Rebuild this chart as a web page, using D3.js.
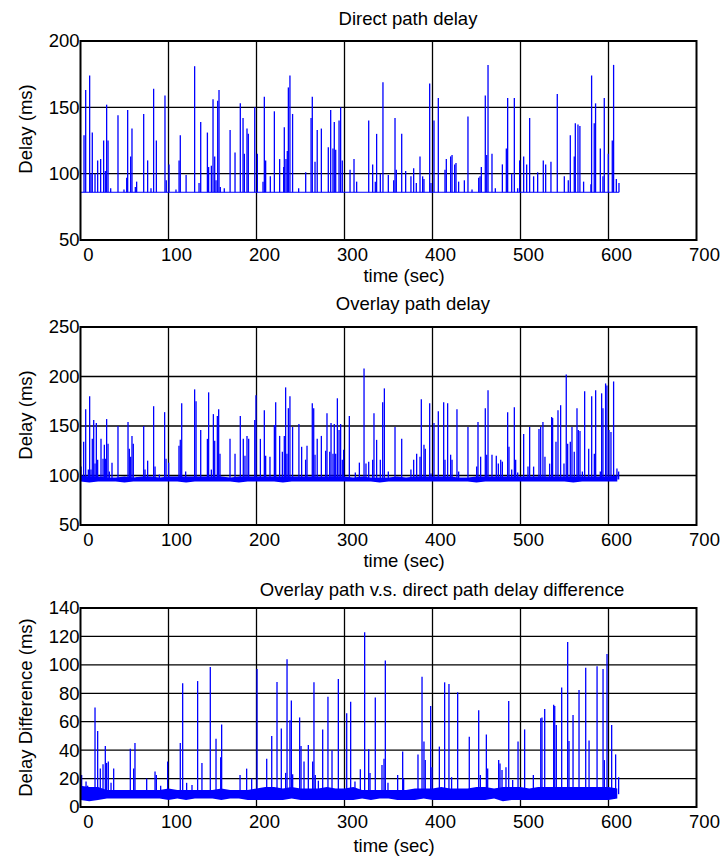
<!DOCTYPE html>
<html>
<head>
<meta charset="utf-8">
<script src="https://cdn.jsdelivr.net/npm/d3@7"></script>
<style>
  body { margin: 0; background: #fff; }
  svg { display: block; font-family: "Liberation Sans", Arial, sans-serif; }
</style>
</head>
<body>
<div id="chart"></div>
<script>
// Delay traces: direct path, overlay path and their difference

const xTicks = [0, 100, 200, 300, 400, 500, 600, 700];
const directTicks = [50, 100, 150, 200];
const overlayTicks = [50, 100, 150, 200, 250];
const diffTicks = [0, 20, 40, 60, 80, 100, 120, 140];

// flat floor of the direct path delay (ms) and the end of the trace (sec)
const directBase = 86;
const traceEnd = 612;

// [time, delay] peaks
const directSpikes = [
  [4,129],[5.9,163],[10.4,174],[11.9,100],[13.4,131],[16.5,100],[19.5,110],[22.9,111],[26.3,125],[28.2,102],
  [29.7,152],[31.3,125],[34.3,89],[42.6,144],[49.4,88],[52.5,97],[53.6,148],[57,113],[58.5,134],[62.3,90],
  [63.8,94],[71.8,145],[76.3,110],[80.1,89],[83.1,164],[86.2,125],[96,159],[97.5,95],[100.6,107],[108.5,88],
  [112,110],[113.4,129],[120,99],[129.7,181],[134.7,93],[136.6,139],[144.2,131],[145.6,105],[148.7,106],[150.6,156],
  [152.5,113],[154,95],[155.9,155],[157.4,163],[158.9,90],[163.4,89],[170,133],[175.6,116],[181.6,153],[184.7,142],
  [186.2,115],[189.2,134],[190.7,130],[198,150],[201,115],[207.4,94],[208.9,158],[210.4,110],[215.7,98],[220.3,147],
  [226.3,111],[230.9,105],[231.6,135],[233.5,111],[235,117],[236.2,165],[238,174],[241,145],[247.9,89],[255.9,101],
  [262,142],[263.4,158],[266.5,109],[269,133],[273.7,134],[281.6,120],[284.3,148],[286.9,119],[288.4,139],[290,118],
  [293.8,140],[295.6,150],[297.5,110],[306.3,103],[310.8,111],[313.8,94],[327.5,140],[332,107],[335,94],[336.5,130],
  [340.7,100],[343.7,169],[349.8,99],[355.9,95],[357.4,142],[358.9,103],[365,130],[369.5,102],[375.5,98],[378.6,104],
  [381.6,93],[385.8,113],[388.8,98],[390.3,96],[396.8,168],[398.3,93],[401.7,140],[406.6,157],[414.2,103],[415.7,111],
  [420.6,113],[422.2,114],[425.2,107],[426.7,108],[429.7,94],[436.2,95],[440.3,143],[444.9,88],[452.5,97],[454,98],
  [455.5,105],[460,159],[461.6,114],[463.1,182],[467.6,115],[471.4,89],[479.4,107],[483.9,119],[485.4,157],[490,100],
  [493,157],[496.8,89],[499,110],[503.6,113],[507,107],[510.4,142],[514.9,98],[519.5,101],[525.9,110],[528.6,107],
  [534.6,109],[541.8,160],[549.8,98],[554.3,95],[556.6,129],[561.1,113],[562.3,138],[565.3,137],[567.5,136],[571.7,94],
  [580,92],[580.8,174],[583.8,138],[585.3,153],[590.7,119],[593.7,98],[595.2,157],[599.8,115],[604.3,125],[605.8,182],
  [608.9,96],[611.9,93]
];

const overlaySpikes = [
  [0.6,109],[3.6,134],[5.9,167],[8.9,106],[10.4,180],[11.9,106],[13.4,137],[15,156],[16.5,112],[18,153],
  [19.5,116],[23.3,137],[25.6,117],[27.1,131],[28.6,117],[29.7,157],[31.3,132],[32.8,104],[35.8,113],[42.6,150],
  [49.4,98],[54,154],[55.5,127],[57,119],[58.5,140],[60,132],[63.8,98],[71.8,150],[73.3,106],[76.3,115],
  [83.1,170],[84.7,109],[89.6,101],[95.6,164],[97.2,117],[100.2,113],[111.9,130],[113.4,136],[115,173],[119.5,104],
  [129.7,187],[131.3,175],[136.6,146],[144.2,137],[145.6,184],[148.7,106],[151,162],[152.5,135],[155.5,160],[157,167],
  [158.5,122],[169.9,137],[175.6,122],[181.6,160],[185,137],[186.9,120],[189.2,140],[191.1,137],[198,156],[199.4,181],
  [204.4,137],[208.9,166],[210.4,120],[215.3,119],[220.3,151],[221.8,174],[226.3,140],[229.4,124],[231.6,140],[233.1,189],
  [234.6,122],[236.2,168],[238,180],[241,149],[248.2,152],[251.3,129],[255.8,116],[257.4,130],[263.4,173],[265,168],
  [266.5,121],[269,137],[273.7,140],[278.6,125],[280.1,163],[283.2,124],[284.7,153],[286.9,122],[288.4,152],[290,122],
  [291.9,178],[293.8,146],[295.6,152],[297.5,116],[299,126],[305.5,160],[312.3,103],[316.9,113],[322.2,208],[324.4,112],
  [327.5,114],[332,116],[333.5,163],[336.5,136],[340.7,116],[343.4,174],[345.3,188],[349.8,104],[357.4,149],[365,137],
  [375.5,106],[378.6,116],[382,122],[385.8,119],[387.3,177],[390.3,131],[391.8,127],[396.8,173],[398.3,102],[401.7,153],
  [406.6,165],[412.7,174],[414.2,116],[417.2,173],[420.6,121],[422.2,116],[427.8,167],[429.7,104],[440.3,149],[450.2,109],
  [451.7,154],[454.7,119],[460,168],[461.6,121],[463.1,186],[467.6,121],[472.5,120],[474.8,112],[477.5,116],[479.4,114],
  [485.4,164],[486.9,129],[490,106],[493,169],[494.5,116],[496.8,103],[503.6,142],[508.5,109],[510.4,149],[514.9,109],
  [521,147],[522.9,149],[525.5,154],[527.8,119],[533.1,112],[535.4,159],[536.5,158],[540.3,134],[542.6,166],[545.6,171],
  [549.4,112],[552,202],[553.6,132],[556.6,134],[558.5,149],[561.1,124],[564.2,168],[565.7,146],[567.6,145],[570.3,104],
  [572.9,185],[577.5,127],[580.9,180],[583.9,122],[585.4,186],[590.7,104],[592.2,183],[593.7,168],[596.7,193],[598.2,191],
  [600.5,146],[602.8,144],[605.8,195],[609.6,107],[611.5,104]
];

const diffSpikes = [
  [1.3,22.5],[6.3,18],[8.1,15],[16.5,70],[19.5,53.5],[22.5,27],[25.6,30],[28.2,43],[29.7,31],[31.6,32],
  [34.7,17],[37.7,27],[56.6,41],[60.4,27],[61.9,45],[75.2,20],[84.7,25],[86.2,22.5],[91.1,15],[99,32],
  [113.4,45],[116.1,87],[120.6,17],[126.7,15.5],[133.1,88.6],[138,31],[147.5,98.5],[154,48],[159.3,35],[160.4,58],
  [181.3,22.5],[188.8,27],[194.5,20],[200.6,97],[211.6,34],[217.3,50],[223.3,88],[228.2,55.3],[233.1,24],[234.7,104],
  [238,61],[239.6,75],[241.1,23],[249,63],[250.6,43],[254,32],[258.9,43.6],[263.8,32],[265.3,87.7],[266.8,22.5],
  [270.3,18.5],[275.2,54.6],[281.2,77.6],[285.8,40],[293,90],[302.5,66],[307,74],[311.9,18],[318,26.5],[322.9,123],
  [327.5,40.6],[329,24],[335,77],[342.6,29.5],[344.9,34],[346.4,103],[349.4,17],[360.4,22.5],[366.1,39],[367.2,20],
  [383.5,37],[388.1,91.7],[390.3,46],[391.8,33],[397.9,71],[399.4,28],[407.8,42.5],[413.8,87.7],[418.7,86.5],[421.7,21],
  [428.6,80.7],[441.8,49.5],[452.5,68],[454.4,22.5],[461.2,51],[462.7,27],[475.2,33],[476.7,30.6],[479,26],[483.5,28],
  [486.6,74.6],[491.1,19],[497.2,46],[504.7,54.6],[514.6,22.5],[523,62.4],[524.4,63],[527.5,69],[537.7,72],[538.9,71],
  [540.7,57.7],[546.8,84],[553.6,116],[555.1,46.4],[559.7,64.7],[566.5,82.3],[574.1,98],[577.9,46.7],[587,99],[593.8,97],
  [595.3,33],[598.3,107.6],[603.6,57.7],[608.1,37],[611.5,21]
];

// noisy floor of the overlay and difference traces, low/high edge every 10 s
const bandTimes = [0,10,20,30,40,50,60,70,80,90,100,110,120,130,140,150,160,170,180,190,200,210,220,230,240,250,260,270,280,290,
  300,310,320,330,340,350,360,370,380,390,400,410,420,430,440,450,460,470,480,490,500,510,520,530,540,550,560,570,580,590,600,610];
const overlayLo = [94,93,94,94,94,93,94,94,94,94,94,94,93,94,94,94,94,94,93,94,94,94,94,93,94,94,94,94,94,94,
  94,94,94,94,93,94,94,94,94,94,94,94,94,94,94,93,94,94,94,94,94,94,94,94,94,94,93,94,94,94,94,94];
const overlayHi = [100,99,99,98,98,99,98,99,99,98,99,99,99,99,99,99,99,98,99,99,99,99,99,99,99,99,99,99,99,99,
  99,98,99,98,98,98,99,98,99,99,99,99,99,98,98,99,99,99,99,99,99,99,99,99,99,99,99,99,99,99,99,100];
const diffLo = [5,4,5,6,6,6,6,6,6,6,5,6,5,6,6,6,5,6,6,5,5,5,5,5,6,5,5,5,5,5,
  5,5,6,5,6,6,5,5,5,6,5,5,5,5,5,5,5,6,4,5,5,5,5,5,5,5,5,5,5,5,5,6];
const diffHi = [15,14,14,12,12,12,12,12,12,12,13,12,12,12,12,12,13,12,12,12,13,14,14,13,14,13,13,13,14,13,
  13,14,12,12,12,12,12,12,13,13,13,14,13,13,13,14,14,13,14,14,14,13,14,14,14,14,14,14,14,14,14,13];

const width = 724, height = 858;
const fontSize = 18.5;

const svg = d3.select("#chart").append("svg")
  .attr("width", width)
  .attr("height", height);

const x = d3.scaleLinear().domain([0, 700]).range([80.5, 696.5]);

const panels = [
  {title: "Direct path delay", titleX: 408, titleY: 25, top: 41, bottom: 240,
   domain: [50, 200], ticks: directTicks, ylabel: "Delay (ms)", ylabelY: 129,
   xlabelX: 404, xlabelY: 282, spikes: directSpikes, base: directBase},
  {title: "Overlay path delay", titleX: 413, titleY: 310, top: 327, bottom: 525,
   domain: [50, 250], ticks: overlayTicks, ylabel: "Delay (ms)", ylabelY: 415,
   xlabelX: 404, xlabelY: 567, spikes: overlaySpikes, base: 96, lo: overlayLo, hi: overlayHi},
  {title: "Overlay path v.s. direct path delay difference", titleX: 442, titleY: 596, top: 608, bottom: 807,
   domain: [0, 140], ticks: diffTicks, ylabel: "Delay Difference (ms)", ylabelY: 707.5,
   xlabelX: 394, xlabelY: 852, spikes: diffSpikes, base: 9, lo: diffLo, hi: diffHi}
];

panels.forEach(function(p) {
  const y = d3.scaleLinear().domain(p.domain).range([p.bottom, p.top]);
  const g = svg.append("g");

  // grid
  g.selectAll(".vgrid").data(xTicks.slice(1, -1)).enter()
    .append("line")
      .attr("x1", d => x(d)).attr("x2", d => x(d))
      .attr("y1", p.top).attr("y2", p.bottom)
      .attr("stroke", "#000").attr("stroke-width", 1.3);
  g.selectAll(".hgrid").data(p.ticks.slice(1, -1)).enter()
    .append("line")
      .attr("x1", x(0)).attr("x2", x(700))
      .attr("y1", d => y(d)).attr("y2", d => y(d))
      .attr("stroke", "#000").attr("stroke-width", 1.3);

  // noisy floor
  if (p.lo) {
    const band = bandTimes.map((t, i) => [t, p.lo[i], p.hi[i]]);
    g.append("path")
      .datum(band)
      .attr("fill", "#0000ff")
      .attr("d", d3.area()
        .x(d => x(Math.min(d[0], traceEnd)))
        .y0(d => y(d[1]))
        .y1(d => y(d[2])));
  } else {
    g.append("line")
      .attr("x1", x(0)).attr("x2", x(traceEnd))
      .attr("y1", y(p.base)).attr("y2", y(p.base))
      .attr("stroke", "#0000ff").attr("stroke-width", 1.2);
  }

  // spikes
  g.selectAll(".spike").data(p.spikes).enter()
    .append("line")
      .attr("x1", d => x(d[0])).attr("x2", d => x(d[0]))
      .attr("y1", y(p.base)).attr("y2", d => y(d[1]))
      .attr("stroke", "#0000ff").attr("stroke-width", 1.3);

  // frame
  g.append("rect")
    .attr("x", x(0)).attr("y", p.top)
    .attr("width", x(700) - x(0)).attr("height", p.bottom - p.top)
    .attr("fill", "none").attr("stroke", "#000").attr("stroke-width", 2);

  // axes
  const xa = g.append("g")
    .attr("transform", `translate(0, ${p.bottom})`)
    .call(d3.axisBottom(x).tickValues(xTicks).tickSize(0).tickFormat(d3.format("d")));
  xa.select(".domain").remove();
  xa.selectAll("text")
    .attr("y", 21).attr("dy", null).attr("dx", 7.5)
    .attr("fill", "#000").style("font-size", fontSize + "px").style("font-family", null);

  const ya = g.append("g")
    .attr("transform", `translate(${x(0)}, 0)`)
    .call(d3.axisLeft(y).tickValues(p.ticks).tickSize(0).tickPadding(1).tickFormat(d3.format("d")));
  ya.select(".domain").remove();
  ya.selectAll("text")
    .attr("fill", "#000").style("font-size", fontSize + "px").style("font-family", null);

  // labels
  g.append("text")
    .attr("x", p.titleX).attr("y", p.titleY)
    .attr("text-anchor", "middle")
    .style("font-size", fontSize + "px")
    .text(p.title);

  g.append("text")
    .attr("x", p.xlabelX).attr("y", p.xlabelY)
    .attr("text-anchor", "middle")
    .style("font-size", fontSize + "px")
    .text("time (sec)");

  g.append("text")
    .attr("transform", `translate(31.5, ${p.ylabelY}) rotate(-90)`)
    .attr("text-anchor", "middle")
    .style("font-size", fontSize + "px")
    .text(p.ylabel);
});
</script>
</body>
</html>
